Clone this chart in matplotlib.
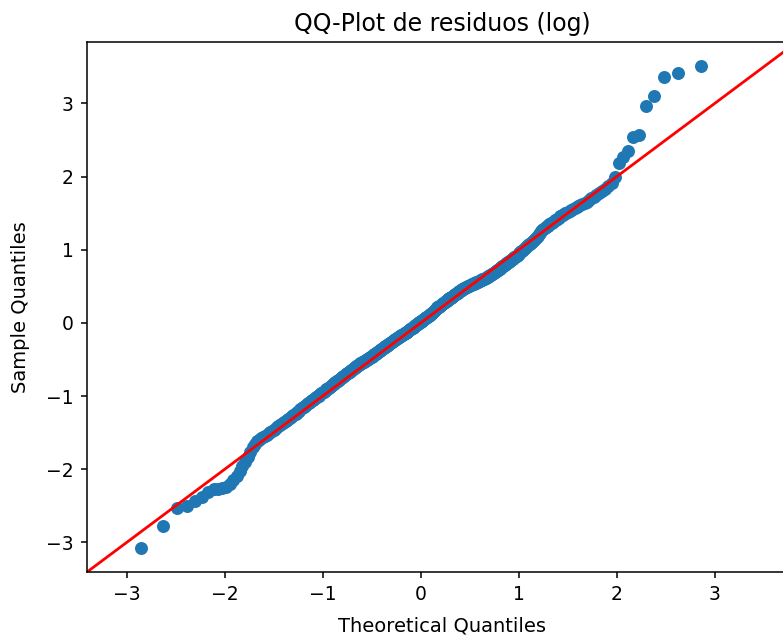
import matplotlib
matplotlib.use("Agg")
import matplotlib.pyplot as plt
from statistics import NormalDist

# Sorted standardized residuals of the log model (sample quantiles)
residuals_lower = [
    -3.08, -2.77, -2.53, -2.51, -2.43, -2.38, -2.31, -2.27, -2.265, -2.26, -2.24, -2.20, -2.15, -2.09, -2.03, -1.96, -1.90, -1.83, -1.76, -1.70, -1.65, -1.62, -1.60, -1.58, -1.565,
    -1.546, -1.528, -1.51, -1.49, -1.475, -1.46, -1.445, -1.43, -1.41, -1.395, -1.38, -1.37, -1.355, -1.34, -1.325, -1.315, -1.30, -1.29, -1.275, -1.26, -1.25, -1.24, -1.225, -1.215, -1.20,
    -1.18, -1.17, -1.155, -1.145, -1.135, -1.125, -1.115, -1.10, -1.09, -1.08, -1.07, -1.06, -1.05, -1.04, -1.03, -1.02, -1.01, -1.00, -0.995, -0.985, -0.975, -0.965, -0.955, -0.95, -0.94,
    -0.93, -0.92, -0.91, -0.905, -0.895, -0.885, -0.875, -0.865, -0.86, -0.85, -0.84, -0.83, -0.82, -0.815, -0.805, -0.80, -0.79, -0.78, -0.775, -0.765, -0.76, -0.75, -0.745, -0.735, -0.73,
    -0.72, -0.715, -0.705, -0.70, -0.69, -0.685, -0.68, -0.67, -0.665, -0.655, -0.65, -0.64, -0.635, -0.63, -0.62, -0.615, -0.61, -0.60, -0.595, -0.59, -0.58, -0.575, -0.57, -0.56, -0.555,
    -0.55, -0.545, -0.54, -0.535, -0.53, -0.525, -0.52, -0.515, -0.51, -0.505, -0.50, -0.495, -0.49, -0.485, -0.48, -0.47, -0.465, -0.46, -0.455, -0.45, -0.445, -0.44, -0.43, -0.425, -0.42,
    -0.415, -0.41, -0.40, -0.395, -0.39, -0.385, -0.38, -0.375, -0.37, -0.36, -0.355, -0.35, -0.345, -0.34, -0.335, -0.33, -0.32, -0.315, -0.31, -0.305, -0.30, -0.295, -0.29, -0.285, -0.28,
    -0.27, -0.265, -0.26, -0.255, -0.25, -0.245, -0.24, -0.235, -0.23, -0.225, -0.22, -0.215, -0.21, -0.205, -0.20, -0.195, -0.19, -0.185, -0.18, -0.175, -0.17, -0.165, -0.16, -0.158, -0.155,
    -0.15, -0.145, -0.14, -0.135, -0.13, -0.125, -0.12, -0.115, -0.11, -0.10, -0.095, -0.09, -0.085, -0.08, -0.075, -0.07, -0.065, -0.06, -0.055, -0.05, -0.04, -0.035, -0.03, -0.025, -0.02,
    -0.015, -0.01, -0.005, 0.0, 0.005, 0.01, 0.015,
]
residuals_upper = [
    0.025, 0.03, 0.035, 0.04, 0.045, 0.05, 0.055, 0.06, 0.065, 0.07,
    0.075, 0.08, 0.085, 0.09, 0.095, 0.10, 0.11, 0.115, 0.12, 0.125,
    0.13, 0.14, 0.145, 0.15, 0.16, 0.165, 0.175, 0.18, 0.19, 0.195,
    0.20, 0.21, 0.215, 0.22, 0.225, 0.23, 0.235, 0.24, 0.25, 0.255,
    0.26, 0.265, 0.27, 0.275, 0.28, 0.29, 0.295, 0.30, 0.305, 0.31,
    0.315, 0.32, 0.325, 0.335, 0.34, 0.345, 0.35, 0.355, 0.36, 0.365,
    0.37, 0.375, 0.38, 0.39, 0.395, 0.40, 0.405, 0.41, 0.415, 0.42,
    0.43, 0.435, 0.44, 0.445, 0.45, 0.455, 0.46, 0.465, 0.47, 0.475,
    0.478, 0.482, 0.486, 0.49, 0.494, 0.498, 0.502, 0.506, 0.51, 0.513,
    0.517, 0.521, 0.525, 0.529, 0.533, 0.537, 0.541, 0.545, 0.549, 0.553,
    0.557, 0.561, 0.565, 0.57, 0.574, 0.578, 0.582, 0.586, 0.59, 0.594,
    0.598, 0.601, 0.605, 0.607, 0.613, 0.619, 0.625, 0.631, 0.637, 0.643,
    0.648, 0.654, 0.66, 0.666, 0.672, 0.679, 0.686, 0.693, 0.70, 0.707,
    0.714, 0.721, 0.728, 0.735, 0.743, 0.75, 0.758, 0.765, 0.773, 0.781,
    0.788, 0.796, 0.804, 0.812, 0.82, 0.828, 0.836, 0.844, 0.852, 0.86,
    0.869, 0.877, 0.885, 0.894, 0.902, 0.911, 0.92, 0.929, 0.941, 0.953,
    0.965, 0.977, 0.989, 1.00, 1.012, 1.024, 1.036, 1.048, 1.06, 1.072,
    1.084, 1.096, 1.108, 1.12, 1.132, 1.145, 1.16, 1.175, 1.19, 1.21,
    1.23, 1.25, 1.265, 1.28, 1.295, 1.31, 1.32, 1.33, 1.345, 1.36,
    1.37, 1.385, 1.40, 1.41, 1.425, 1.44, 1.455, 1.47, 1.48, 1.495,
    1.505, 1.518, 1.53, 1.54, 1.55, 1.565, 1.58, 1.595, 1.61, 1.625,
    1.64, 1.655, 1.675, 1.70, 1.725, 1.75, 1.775, 1.805, 1.835, 1.87,
    1.91, 1.99, 2.18, 2.265, 2.355, 2.545, 2.57, 2.97, 3.10, 3.355,
    3.41, 3.51,
]

title = "QQ-Plot de residuos (log)"
xlabel = "Theoretical Quantiles"
ylabel = "Sample Quantiles"

sample_q = residuals_lower + residuals_upper
n = len(sample_q)
# plotting positions i/(n+1), as in statsmodels ProbPlot (a=0)
norm = NormalDist()
theo_q = [norm.inv_cdf(i / (n + 1)) for i in range(1, n + 1)]

plt.rcParams["font.family"] = "DejaVu Sans"
fig = plt.figure(figsize=(7.83, 6.38), dpi=100)
ax = fig.add_axes([0.1107, 0.103, 0.9072, 0.8312])

ax.plot(theo_q, sample_q, "o", color="#1f77b4", markersize=8, markeredgewidth=1.33)

# 45-degree reference line spanning the combined axis limits
xl, yl = ax.get_xlim(), ax.get_ylim()
lo, hi = min(xl[0], yl[0]), max(xl[1], yl[1])
ax.plot([lo, hi], [lo, hi], color="red", linewidth=2.0)
ax.set_xlim(lo, hi)
ax.set_ylim(lo, hi)

ax.set_xticks([-3, -2, -1, 0, 1, 2, 3])
ax.set_yticks([-3, -2, -1, 0, 1, 2, 3])
ax.tick_params(labelsize=13.5, length=4.6, width=1.1, pad=4.6)
for sp in ax.spines.values():
    sp.set_linewidth(1.1)

ax.set_title(title, fontsize=17, pad=8)
ax.set_xlabel(xlabel, fontsize=14, labelpad=9)
ax.set_ylabel(ylabel, fontsize=14, labelpad=12)

fig.savefig("out.png", dpi=100)
